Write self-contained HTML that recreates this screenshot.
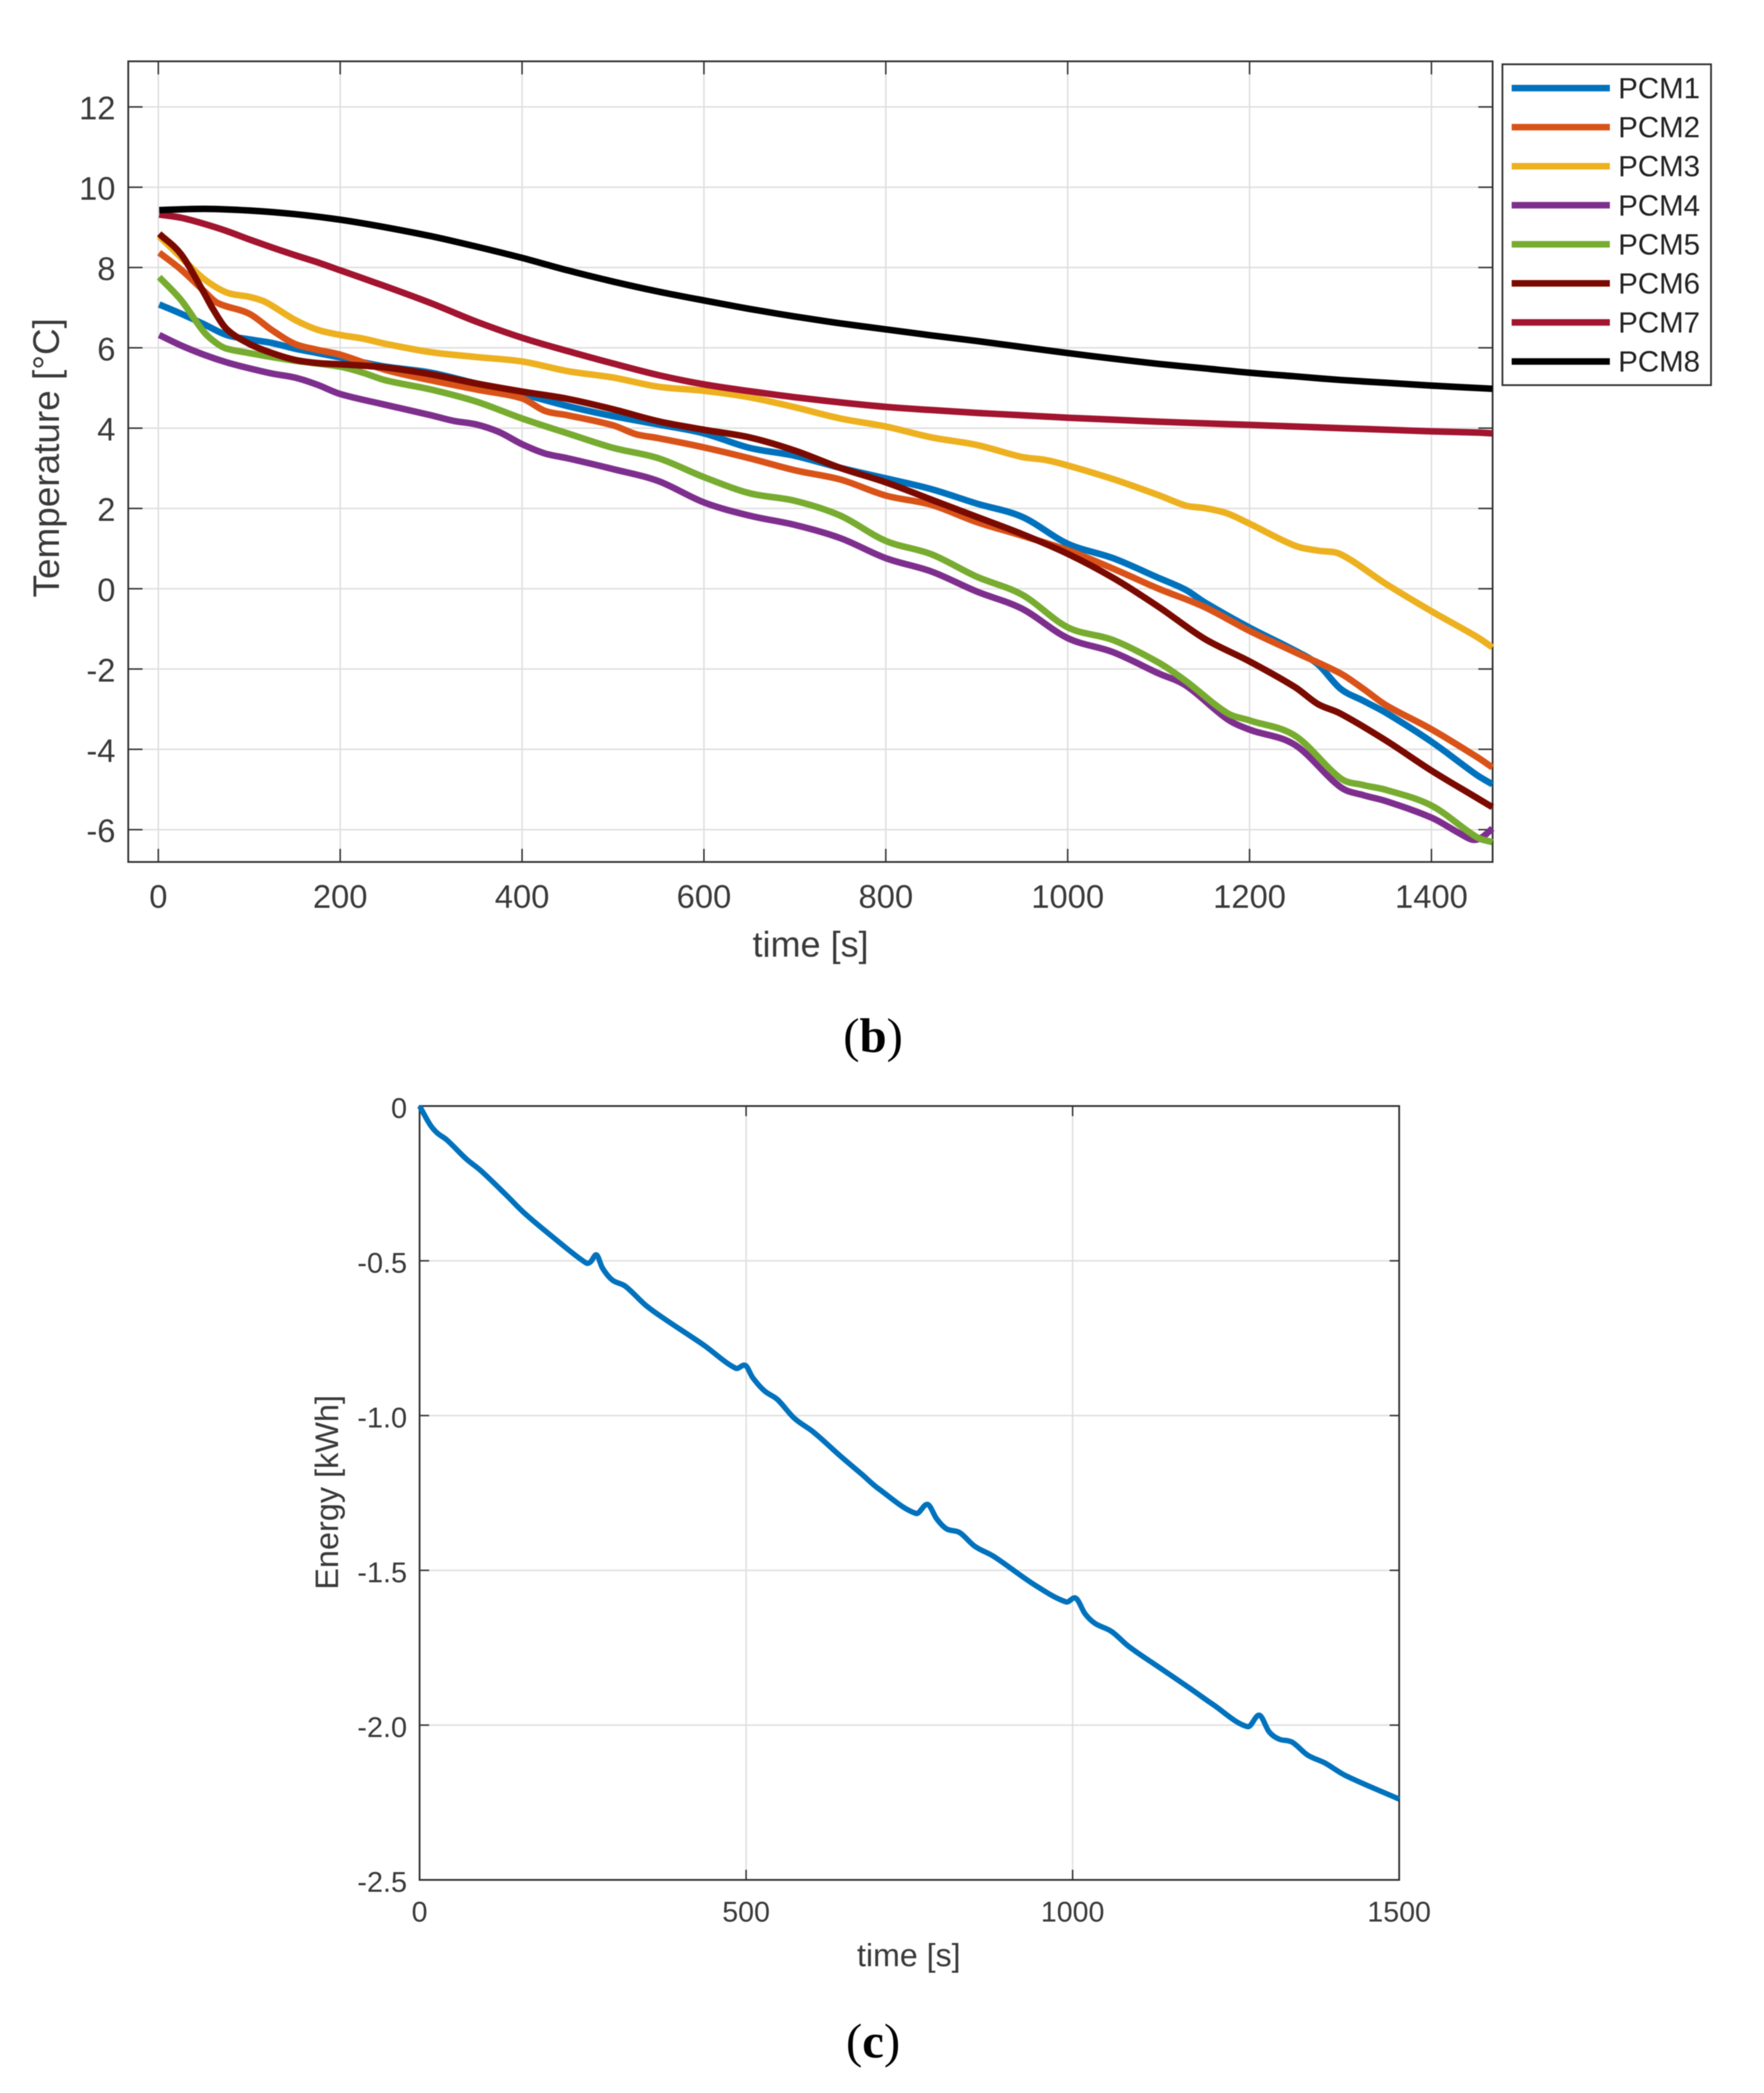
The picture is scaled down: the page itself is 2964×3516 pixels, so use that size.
<!DOCTYPE html>
<html lang="en">
<head>
<meta charset="utf-8">
<title>PCM temperature and energy charts</title>
<style>
  html, body { margin: 0; padding: 0; background: #fff; }
  body { width: 2964px; height: 3516px; overflow: hidden; }
  svg { display: block; filter: blur(0.8px); }
  text { font-family: "Liberation Sans", sans-serif; fill: #3a3a3a; }
  .cap { font-family: "Liberation Serif", serif; fill: #000; font-size: 82px; }
</style>
</head>
<body>
<svg id="root" xmlns="http://www.w3.org/2000/svg" width="2964" height="3516" viewBox="0 0 2964 3516">
  <rect width="2964" height="3516" fill="#ffffff"/>
  <g id="chartB"></g>
  <g id="chartC"></g>
  <text class="cap" x="1467" y="1767" text-anchor="middle">(<tspan font-weight="bold">b</tspan>)</text>
  <text class="cap" x="1467" y="3456" text-anchor="middle">(<tspan font-weight="bold">c</tspan>)</text>
</svg>
<script>
// ---- Temperature chart data ----
const seriesNames = ["PCM1","PCM2","PCM3","PCM4","PCM5","PCM6","PCM7","PCM8"];
const seriesColors = ["#0072BD","#D95319","#EDB120","#7E2F8E","#77AC30","#7A0A00","#A2142F","#000000"];
const timeTicks = [0,200,400,600,800,1000,1200,1400];
const tempTicks = [-6,-4,-2,0,2,4,6,8,10,12];

const pcm1Time = [1,25,50,75,100,125,150,175,200,225,250,300,350,400,450,500,550,600,650,700,750,800,850,900,950,1000,1050,1100,1130,1150,1200,1250,1275,1300,1325,1350,1400,1450,1467];
const pcm1Temp = [7.08,6.85,6.59,6.32,6.21,6.12,5.98,5.87,5.76,5.64,5.53,5.38,5.11,4.85,4.55,4.30,4.09,3.87,3.51,3.31,3.01,2.75,2.48,2.12,1.79,1.12,0.76,0.27,-0.03,-0.33,-0.97,-1.54,-1.88,-2.49,-2.79,-3.09,-3.81,-4.64,-4.87];

const pcm2Time = [1,25,50,65,100,125,150,175,200,250,300,350,400,425,450,500,525,550,600,650,700,750,800,850,900,950,1000,1050,1100,1150,1200,1250,1300,1325,1350,1400,1450,1467];
const pcm2Temp = [8.37,7.95,7.42,7.12,6.85,6.44,6.10,5.95,5.83,5.45,5.19,4.96,4.74,4.43,4.32,4.07,3.85,3.75,3.52,3.25,2.95,2.72,2.32,2.09,1.66,1.32,0.96,0.50,0.00,-0.45,-1.05,-1.58,-2.11,-2.49,-2.90,-3.50,-4.19,-4.45];

const pcm3Time = [1,25,50,75,100,115,125,150,175,200,225,250,300,350,400,450,500,550,600,650,700,750,800,850,900,950,975,1000,1050,1100,1130,1150,1175,1200,1250,1275,1300,1350,1400,1450,1467];
const pcm3Temp = [8.78,8.25,7.72,7.38,7.27,7.17,7.05,6.70,6.45,6.32,6.23,6.10,5.89,5.77,5.66,5.42,5.26,5.03,4.93,4.77,4.52,4.24,4.04,3.77,3.58,3.28,3.21,3.07,2.73,2.33,2.07,2.01,1.88,1.62,1.07,0.95,0.86,0.12,-0.56,-1.20,-1.46];

const pcm4Time = [1,25,50,75,100,125,150,175,200,250,300,325,350,375,400,425,450,500,550,600,650,700,750,800,850,900,950,1000,1050,1100,1130,1175,1200,1250,1300,1325,1350,1400,1430,1445,1455,1467];
const pcm4Temp = [6.32,6.06,5.83,5.64,5.49,5.36,5.26,5.08,4.85,4.58,4.32,4.18,4.09,3.90,3.60,3.37,3.25,2.98,2.68,2.15,1.82,1.59,1.26,0.76,0.43,-0.07,-0.50,-1.23,-1.58,-2.11,-2.41,-3.24,-3.51,-3.89,-4.94,-5.14,-5.29,-5.70,-6.08,-6.25,-6.20,-5.97];

const pcm5Time = [1,25,50,65,75,100,125,150,200,225,250,300,350,400,450,500,550,600,650,700,750,800,850,900,950,1000,1050,1100,1130,1175,1200,1250,1300,1325,1350,1400,1450,1467];
const pcm5Temp = [7.76,7.19,6.40,6.10,5.98,5.87,5.77,5.68,5.53,5.38,5.19,4.96,4.66,4.24,3.87,3.51,3.25,2.78,2.38,2.19,1.82,1.19,0.86,0.30,-0.15,-0.96,-1.28,-1.84,-2.30,-3.09,-3.28,-3.66,-4.72,-4.89,-5.01,-5.40,-6.19,-6.31];

const pcm6Time = [1,25,50,60,75,100,125,150,175,200,250,300,350,400,450,500,550,600,650,700,750,800,850,900,950,1000,1050,1100,1150,1200,1250,1275,1300,1350,1400,1450,1467];
const pcm6Temp = [8.84,8.33,7.38,6.97,6.47,6.10,5.87,5.70,5.62,5.59,5.51,5.34,5.11,4.91,4.73,4.47,4.17,3.96,3.77,3.44,3.01,2.65,2.22,1.79,1.36,0.87,0.27,-0.45,-1.24,-1.81,-2.45,-2.87,-3.11,-3.78,-4.53,-5.21,-5.44];

const pcm7Time = [1,25,50,75,100,125,150,175,200,250,300,350,400,450,500,550,600,650,700,750,800,850,900,950,1000,1050,1100,1150,1200,1250,1300,1350,1400,1450,1467];
const pcm7Temp = [9.32,9.24,9.09,8.91,8.70,8.50,8.31,8.13,7.93,7.53,7.11,6.65,6.25,5.92,5.61,5.32,5.09,4.92,4.77,4.64,4.53,4.45,4.38,4.32,4.26,4.21,4.16,4.12,4.08,4.04,4.00,3.96,3.92,3.89,3.87];

const pcm8Time = [1,50,100,150,200,250,300,350,400,450,500,550,600,650,700,750,800,850,900,950,1000,1050,1100,1150,1200,1250,1300,1350,1400,1450,1467];
const pcm8Temp = [9.43,9.46,9.42,9.33,9.19,9.00,8.78,8.52,8.24,7.93,7.65,7.40,7.18,6.97,6.78,6.61,6.46,6.31,6.17,6.02,5.87,5.73,5.60,5.49,5.38,5.29,5.20,5.13,5.06,5.00,4.98];

const pcmTimes = [pcm1Time,pcm2Time,pcm3Time,pcm4Time,pcm5Time,pcm6Time,pcm7Time,pcm8Time];
const pcmTemps = [pcm1Temp,pcm2Temp,pcm3Temp,pcm4Temp,pcm5Temp,pcm6Temp,pcm7Temp,pcm8Temp];

// ---- Energy chart data ----
const energyTime = [0,16,27,42,71,94,132,161,208,255,262,271,280,295,315,347,376,435,484,499,510,528,548,574,603,644,678,702,760,778,792,807,827,850,880,941,990,1005,1019,1034,1060,1086,1133,1185,1214,1268,1286,1301,1316,1336,1360,1386,1418,1500];
const energyKwh = [0,-0.06,-0.087,-0.11,-0.17,-0.209,-0.286,-0.347,-0.43,-0.507,-0.503,-0.481,-0.523,-0.562,-0.582,-0.645,-0.689,-0.772,-0.847,-0.838,-0.877,-0.92,-0.948,-1.009,-1.053,-1.13,-1.191,-1.235,-1.316,-1.287,-1.334,-1.366,-1.378,-1.422,-1.456,-1.546,-1.602,-1.59,-1.64,-1.671,-1.698,-1.746,-1.814,-1.889,-1.932,-2.005,-1.968,-2.022,-2.045,-2.055,-2.097,-2.122,-2.163,-2.239];
const energyTimeTicks = [0,500,1000,1500];
const energyTicks = [0,-0.5,-1,-1.5,-2,-2.5];
const energyTickLabels = ["0","-0.5","-1.0","-1.5","-2.0","-2.5"];

// ---- Axis functions ----
function xTemp(t) { return 266 + 1.528 * t; }
function yTemp(v) { return 989 - 67.45 * v; }
function xEnergy(t) { return 705 + 1.0973 * t; }
function yEnergy(v) { return 1858 - 520 * v; }

const NS = "http://www.w3.org/2000/svg";
function make(tag, parent, props) {
  const el = document.createElementNS(NS, tag);
  for (const k in props) el.setAttribute(k, props[k]);
  parent.appendChild(el);
  return el;
}
function smoothPath(xs, ys) {
  const n = xs.length, m = [];
  for (let i = 0; i < n; i++) {
    const a = Math.max(i - 1, 0), b = Math.min(i + 1, n - 1);
    m.push((ys[b] - ys[a]) / (xs[b] - xs[a]));
  }
  let d = "M" + xs[0].toFixed(1) + " " + ys[0].toFixed(1);
  for (let i = 0; i < n - 1; i++) {
    const h = (xs[i + 1] - xs[i]) / 3;
    d += "C" + (xs[i] + h).toFixed(1) + " " + (ys[i] + m[i] * h).toFixed(1) + " " +
         (xs[i + 1] - h).toFixed(1) + " " + (ys[i + 1] - m[i + 1] * h).toFixed(1) + " " +
         xs[i + 1].toFixed(1) + " " + ys[i + 1].toFixed(1);
  }
  return d;
}
const GRID = "#dfdfdf", AXIS = "#333333";

// ---- Temperature chart ----
(function () {
  const g = document.getElementById("chartB");
  const L = 215.5, R = 2508, T = 103, B = 1448;
  timeTicks.forEach(function (t) {
    const x = xTemp(t);
    const gl = make("line", g, {x1: x, x2: x, y1: T, y2: B, stroke: GRID, "stroke-width": 2.5});
    
    
    const tb = make("line", g, {x1: x, x2: x, y1: B, y2: B - 22, stroke: AXIS, "stroke-width": 2.5});
    
    
    const tt = make("line", g, {x1: x, x2: x, y1: T, y2: T + 22, stroke: AXIS, "stroke-width": 2.5});
    
    
    const lb = make("text", g, {x: x, y: 1525, "text-anchor": "middle", "font-size": 55});
    lb.textContent = String(t);
    
    
  });
  tempTicks.forEach(function (v) {
    const y = yTemp(v);
    const gl = make("line", g, {x1: L, x2: R, y1: y, y2: y, stroke: GRID, "stroke-width": 2.5});
    
    
    const tl = make("line", g, {x1: L, x2: L + 24, y1: y, y2: y, stroke: AXIS, "stroke-width": 2.5});
    
    
    const tr = make("line", g, {x1: R, x2: R - 24, y1: y, y2: y, stroke: AXIS, "stroke-width": 2.5});
    
    
    const lb = make("text", g, {x: 194, y: y + 21, "text-anchor": "end", "font-size": 55});
    lb.textContent = String(v);
    
    
  });
  const frame = make("rect", g, {x: L, y: T, width: R - L, height: B - T, fill: "none", stroke: AXIS, "stroke-width": 3});
  
  

  seriesNames.forEach(function (name, i) {
    const p = make("path", g, {
      d: smoothPath(pcmTimes[i].map(xTemp), pcmTemps[i].map(yTemp)),
      fill: "none", stroke: seriesColors[i], "stroke-width": 11, "stroke-linejoin": "round"
    });
    
    
  });

  const xl = make("text", g, {x: 1362, y: 1607, "text-anchor": "middle", "font-size": 60.5});
  xl.textContent = "time [s]";
  
  
  const yl = make("text", g, {x: 0, y: 0, "text-anchor": "middle", "font-size": 62, transform: "translate(99 769) rotate(-90)"});
  yl.textContent = "Temperature [°C]";
  
  

  const box = make("rect", g, {x: 2524.5, y: 108, width: 350.5, height: 539, fill: "#fff", stroke: AXIS, "stroke-width": 3});
  
  
  seriesNames.forEach(function (name, i) {
    const ly = 148 + i * 65.6;
    const ln = make("line", g, {x1: 2540, x2: 2705, y1: ly, y2: ly, stroke: seriesColors[i], "stroke-width": 11});
    
    
    const tx = make("text", g, {x: 2719, y: ly + 17, "font-size": 49.5});
    tx.style.fill = "#222";
    tx.textContent = name;
    
    
  });
})();

// ---- Energy chart ----
(function () {
  const g = document.getElementById("chartC");
  const L = 705, R = 2351, T = 1858, B = 3158;
  energyTimeTicks.forEach(function (t) {
    const x = xEnergy(t);
    const gl = make("line", g, {x1: x, x2: x, y1: T, y2: B, stroke: GRID, "stroke-width": 2.5});
    
    
    const tb = make("line", g, {x1: x, x2: x, y1: B, y2: B - 17, stroke: AXIS, "stroke-width": 2.5});
    
    
    const tt = make("line", g, {x1: x, x2: x, y1: T, y2: T + 17, stroke: AXIS, "stroke-width": 2.5});
    
    
    const lb = make("text", g, {x: x, y: 3228, "text-anchor": "middle", "font-size": 48});
    lb.textContent = String(t);
    
    
  });
  energyTicks.forEach(function (v, i) {
    const y = yEnergy(v);
    const gl = make("line", g, {x1: L, x2: R, y1: y, y2: y, stroke: GRID, "stroke-width": 2.5});
    
    
    const tl = make("line", g, {x1: L, x2: L + 16, y1: y, y2: y, stroke: AXIS, "stroke-width": 2.5});
    
    
    const tr = make("line", g, {x1: R, x2: R - 16, y1: y, y2: y, stroke: AXIS, "stroke-width": 2.5});
    
    
    const lb = make("text", g, {x: 684, y: y + 20, "text-anchor": "end", "font-size": 48.5});
    lb.textContent = energyTickLabels[i];
    
    
  });
  const frame = make("rect", g, {x: L, y: T, width: R - L, height: B - T, fill: "none", stroke: AXIS, "stroke-width": 3});
  
  

  const p = make("path", g, {
    d: smoothPath(energyTime.map(xEnergy), energyKwh.map(yEnergy)),
    fill: "none", stroke: "#0072BD", "stroke-width": 9, "stroke-linejoin": "round"
  });
  
  

  const xl = make("text", g, {x: 1527, y: 3303, "text-anchor": "middle", "font-size": 54});
  xl.textContent = "time [s]";
  
  
  const yl = make("text", g, {x: 0, y: 0, "text-anchor": "middle", "font-size": 54.5, transform: "translate(568 2507) rotate(-90)"});
  yl.textContent = "Energy [kWh]";
  
  
})();
</script>
</body>
</html>
